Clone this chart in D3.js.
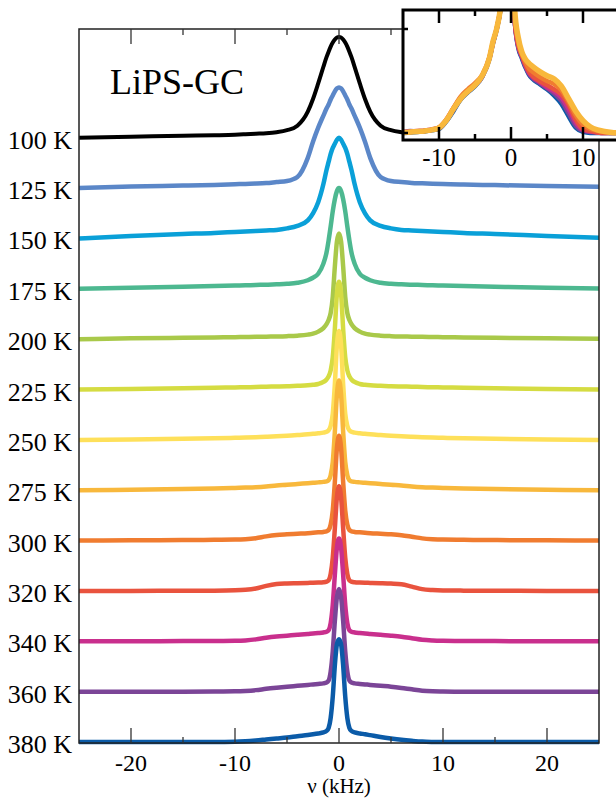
<!DOCTYPE html>
<html>
<head>
<meta charset="utf-8">
<script src="https://cdn.jsdelivr.net/npm/d3@7"></script>
<style>
  html, body { margin: 0; padding: 0; background: #fff; }
  #chart { width: 616px; height: 798px; overflow: hidden; }
</style>
</head>
<body>
<div id="chart"></div>
<script>
// Frequency grid (kHz) of the main stacked spectra
const freqs = [-25, -20, -15, -12, -10, -9, -8, -7, -6, -5, -4, -3, -2.5, -2, -1.5, -1.2, -1, -0.8, -0.6, -0.4, -0.2,
    0,
    0.2, 0.4, 0.6, 0.8, 1, 1.2, 1.5, 2, 2.5, 3, 4, 5, 6, 7, 8, 9, 10, 12, 15, 20, 25];

const temps = [100, 125, 150, 175, 200, 225, 250, 275, 300, 320, 340, 360, 380];
const curveColors = ["#000000", "#5b87c8", "#0aa0d8", "#4db890", "#a9c94a", "#d5dc42", "#fee05a",
    "#f8b83c", "#f07c30", "#e9533e", "#c92f8d", "#7b4597", "#0b5ba8"];

// Intensities (one offset step = 50)
const i100K = [0, 1, 2, 2.5, 3, 3.5, 4, 4.5, 5.5, 7.5, 12, 26, 38.5, 54, 70.5, 80, 85.5, 90.5, 94.5, 97.5, 99.5,
    100,
    99.5, 97.5, 94.5, 90.5, 85.5, 80, 70.5, 54, 38.5, 26, 12, 7.5, 5.5, 4.5, 4, 3.5, 3, 2.5, 2, 1, 0.3];
const i125K = [0, 1.5, 2.5, 3.2, 3.8, 4.2, 4.5, 5, 6, 7, 11, 30, 46, 60, 72, 79, 83, 88, 92, 96, 99,
    100,
    99, 96, 92, 88, 83, 79, 72, 60, 46, 30, 11, 7, 6, 5.2, 4.8, 4.4, 4, 3.5, 3, 2, 1.3];
const i150K = [0, 2.5, 4.5, 5.5, 6.5, 7, 7.5, 8, 8.5, 10, 12.5, 18, 25, 36, 54, 68, 76, 84, 90, 94, 98,
    100,
    98, 94, 90, 84, 76, 68, 54, 36, 25, 18, 12.5, 10, 8.5, 8, 7.5, 7, 6.5, 5.5, 4.5, 2.5, 0.7];
const i175K = [0, 1, 2, 2.7, 3.2, 3.5, 3.8, 4.1, 4.5, 5, 6, 8.5, 11, 15, 25, 36, 48, 62, 77, 89, 97,
    100,
    97, 89, 77, 62, 48, 36, 25, 15, 11, 8.5, 6, 5, 4.5, 4.1, 3.8, 3.5, 3.2, 2.7, 2, 1, 0.3];
const i200K = [0, 0.8, 1.3, 1.7, 2, 2.1, 2.3, 2.5, 2.7, 3, 3.5, 4.5, 5.5, 7.5, 11, 15, 19, 26, 42, 72, 97,
    105,
    97, 72, 42, 26, 19, 15, 11, 7.5, 5.5, 4.5, 3.5, 3, 2.7, 2.5, 2.3, 2.1, 2, 1.7, 1.3, 0.8, 0.4];
const i225K = [0, 0.6, 1.2, 1.7, 2.1, 2.3, 2.5, 2.8, 3, 3.3, 3.7, 4.2, 4.7, 5.5, 7.5, 10, 13, 19, 32, 60, 95,
    107,
    95, 60, 32, 19, 13, 10, 7.5, 5.5, 4.7, 4.2, 3.7, 3.3, 3, 2.8, 2.5, 2.3, 2.1, 1.7, 1.2, 0.6, 0];
const i250K = [0, 0.5, 1, 1.5, 2, 2.3, 2.7, 3.1, 3.6, 4.2, 4.8, 5.5, 6, 6.5, 7.2, 8, 9.5, 14, 26, 55, 94,
    108,
    94, 55, 26, 14, 9.5, 8, 7.2, 6.5, 6, 5.5, 4.8, 4.2, 3.6, 3.1, 2.7, 2.3, 2, 1.5, 1, 0.5, 0];
const i275K = [0, 0.5, 1.2, 1.8, 2.3, 2.6, 3, 3.7, 4.7, 5.4, 6.2, 7, 7.4, 7.8, 8.3, 8.8, 10, 15, 28, 58, 95,
    109,
    95, 58, 28, 15, 10, 8.8, 8.3, 7.8, 7.4, 7, 6.2, 5.4, 4.7, 3.7, 3, 2.6, 2.3, 1.8, 1.2, 0.5, 0];
const i300K = [0, 0.3, 0.5, 0.8, 1, 1.4, 2.4, 4.2, 5.5, 6.2, 6.8, 7.4, 7.8, 8.2, 8.6, 9.2, 10.5, 16, 30, 58, 92,
    104,
    92, 58, 30, 16, 10.5, 9.2, 8.6, 8.2, 7.8, 7.4, 6.8, 6.2, 5.3, 3.8, 2.2, 1.4, 1, 0.8, 0.5, 0.3, 0];
const i320K = [0, 0, 0.2, 0.3, 0.6, 1.1, 2.4, 5, 6.8, 7.4, 7.7, 8, 8.1, 8.3, 8.6, 9.2, 10.5, 17, 33, 62, 93,
    104,
    93, 62, 33, 17, 10.5, 9.2, 8.6, 8.3, 8.1, 8, 7.7, 7.3, 6.6, 4.3, 1.8, 0.9, 0.5, 0.3, 0.2, 0, 0];
const i340K = [0, 0, 0.2, 0.3, 0.5, 0.9, 1.9, 3.6, 4.8, 5.6, 6.4, 7.3, 7.8, 8.2, 8.8, 9.5, 11, 18, 36, 66, 93,
    102,
    93, 66, 36, 18, 11, 9.5, 8.8, 8.2, 7.8, 7.3, 6.4, 5.6, 4.6, 3.1, 1.5, 0.8, 0.5, 0.3, 0.2, 0, 0];
const i360K = [0, 0, 0, 0.1, 0.3, 0.7, 1.5, 2.8, 3.9, 4.9, 5.8, 6.7, 7.2, 7.7, 8.2, 9, 11, 20, 40, 70, 94,
    102,
    94, 70, 40, 20, 11, 9, 8.2, 7.7, 7.2, 6.7, 5.8, 4.9, 3.7, 2.3, 1, 0.4, 0.2, 0, 0, 0, 0];
const i380K = [0, 0, 0, 0, 0.2, 0.7, 1.5, 2.5, 3.5, 4.5, 5.8, 7, 7.7, 8.5, 9.5, 11, 14, 24, 45, 76, 97,
    102,
    97, 76, 45, 24, 14, 11, 9.5, 8.5, 7.7, 6.8, 5, 3.5, 2.2, 1.2, 0.4, 0.1, 0, 0, 0, 0, 0];
const mainSeries = [i100K, i125K, i150K, i175K, i200K, i225K, i250K, i275K, i300K, i320K, i340K, i360K, i380K];

// x ticks
const xMajorTicks = [-20, -10, 0, 10, 20];
const xMinorTicks = [-15, -5, 5, 15];

// Inset (zoomed base of the high-temperature lines)
const insetFreqs = [-15, -14, -13, -12, -11, -10, -9, -8, -7, -6, -5, -4, -3, -2.5, -2, -1.5, -1, -0.5,
    0,
    0.5, 1, 1.5, 2, 2.5, 3, 4, 5, 6, 7, 8, 9, 10, 11, 12, 13, 14, 15];
const insetTemps = [380, 360, 340, 320, 300, 275];
const insetColors = ["#0b5ba8", "#7b4597", "#c92f8d", "#e9533e", "#f07c30", "#f8b83c"];
const in380K = [0, 0.5, 1, 1.5, 2.5, 4, 11, 21, 32, 39, 45, 54, 71, 86, 99, 117, 150, 250,
    300,
    110, 82, 72, 63, 56, 52, 47, 42, 36, 28, 16, 5, 1, 0, 0, 0, 0, 0];
const in360K = [1, 2, 1.5, 2, 3, 4.5, 12, 22, 33, 40, 46, 54, 72, 87, 100, 117, 150, 250,
    300,
    110, 83, 73, 64, 57, 53, 48, 43, 38, 31, 19, 7, 2, 1, 1, 0.5, 0, 0];
const in340K = [1, 1.5, 2, 2.5, 3.5, 5, 12, 23, 33, 40, 46, 55, 72, 87, 100, 118, 150, 250,
    300,
    110, 84, 74, 65, 58, 54, 49, 44, 40, 34, 23, 10, 3, 1.5, 0.5, 0, 0.5, 0];
const in320K = [0.5, 1, 1.5, 2, 3, 5.5, 13, 24, 34, 41, 47, 55, 72, 87, 100, 118, 150, 250,
    300,
    110, 85, 75, 66, 59, 55, 50, 46, 42, 37, 27, 13, 4, 2, 0.5, 0, 0, 0];
const in300K = [0.5, 1, 1.5, 2, 3, 5, 12, 24, 35, 42, 48, 56, 73, 88, 100, 118, 150, 250,
    300,
    115, 88, 76, 68, 62, 59, 54, 50, 47, 41, 30, 17, 8, 4, 2, 1, 0.5, 0];
const in275K = [0.5, 1, 1.5, 2, 3, 5, 12, 23, 33, 40, 46, 55, 72, 88, 100, 118, 150, 250,
    300,
    120, 92, 78, 71, 67, 64, 59, 55, 52, 45, 33, 21, 12, 6, 3, 1.5, 0.5, 0];
const insetSeries = [in380K, in360K, in340K, in320K, in300K, in275K];
const insetMajorTicks = [-10, 0, 10];
const insetMinorTicks = [-5, 5];

document.addEventListener("DOMContentLoaded", function () {
    const width = 616, height = 798;
    const plot = { left: 79, right: 599, top: 29, bottom: 743 };
    const font = "'Liberation Serif', 'Times New Roman', serif";

    const svg = d3.select("#chart")
        .append("svg")
        .attr("width", width)
        .attr("height", height);

    // Scales
    const x = d3.scaleLinear().domain([-25, 25]).range([plot.left, plot.right]);
    const y = d3.scaleLinear().domain([0, 708]).range([742, plot.top]);
    const step = 50;

    svg.append("defs").append("clipPath").attr("id", "clipMain")
        .append("rect")
        .attr("x", plot.left).attr("y", 0)
        .attr("width", plot.right - plot.left).attr("height", height);

    const line = d3.line()
        .x(d => x(d[0]))
        .y(d => y(d[1]))
        .curve(d3.curveMonotoneX);

    // Stacked spectra, low temperature first so hotter ones sit on top
    const curves = svg.append("g").attr("clip-path", "url(#clipMain)");
    mainSeries.forEach((vals, k) => {
        const offset = (temps.length - 1 - k) * step;
        curves.append("path")
            .datum(freqs.map((f, j) => [f, offset + vals[j]]))
            .attr("fill", "none")
            .attr("stroke", curveColors[k])
            .attr("stroke-width", k === 0 ? 4 : 4.5)
            .attr("stroke-linejoin", "round")
            .attr("d", line);
    });

    // Frame
    svg.append("rect")
        .attr("x", plot.left).attr("y", plot.top)
        .attr("width", plot.right - plot.left).attr("height", plot.bottom - plot.top)
        .attr("fill", "none")
        .attr("stroke", "#222")
        .attr("stroke-width", 1.5);

    // Ticks (inward) on bottom and top
    const tickG = svg.append("g").attr("stroke", "#333").attr("stroke-width", 1.3);
    [[xMajorTicks, 15], [xMinorTicks, 6]].forEach(([vals, len]) => {
        vals.forEach(v => {
            tickG.append("line").attr("x1", x(v)).attr("x2", x(v))
                .attr("y1", plot.bottom).attr("y2", plot.bottom - len);
            tickG.append("line").attr("x1", x(v)).attr("x2", x(v))
                .attr("y1", plot.top).attr("y2", plot.top + len);
        });
    });

    // x tick labels
    svg.append("g").selectAll("text")
        .data(xMajorTicks)
        .enter()
        .append("text")
        .attr("x", d => x(d))
        .attr("y", 771)
        .attr("text-anchor", "middle")
        .style("font-family", font)
        .style("font-size", "24px")
        .text(d => d);

    svg.append("text")
        .attr("x", x(0))
        .attr("y", 793)
        .attr("text-anchor", "middle")
        .style("font-family", font)
        .style("font-size", "21px")
        .text("ν (kHz)");

    // Temperature labels at each baseline
    svg.append("g").selectAll("text")
        .data(temps)
        .enter()
        .append("text")
        .attr("x", 72)
        .attr("y", (d, k) => y((temps.length - 1 - k) * step) + 11)
        .attr("text-anchor", "end")
        .style("font-family", font)
        .style("font-size", "26px")
        .text(d => `${d} K`);

    svg.append("text")
        .attr("x", 110)
        .attr("y", 94)
        .style("font-family", font)
        .style("font-size", "36px")
        .text("LiPS-GC");

    // Inset
    const ins = { left: 403, right: 619, top: 10, bottom: 140 };
    const xi = d3.scaleLinear().domain([-15, 15]).range([ins.left, ins.right]);
    const yi = d3.scaleLinear().domain([0, 100]).range([133, 29]);

    svg.append("rect")
        .attr("x", ins.left).attr("y", ins.top)
        .attr("width", ins.right - ins.left).attr("height", ins.bottom - ins.top)
        .attr("fill", "#fff");

    svg.select("defs").append("clipPath").attr("id", "clipInset")
        .append("rect")
        .attr("x", ins.left).attr("y", ins.top)
        .attr("width", ins.right - ins.left).attr("height", ins.bottom - ins.top);

    const lineInset = d3.line()
        .x(d => xi(d[0]))
        .y(d => yi(d[1]))
        .curve(d3.curveMonotoneX);

    const insetG = svg.append("g").attr("clip-path", "url(#clipInset)");
    insetSeries.forEach((vals, k) => {
        insetG.append("path")
            .datum(insetFreqs.map((f, j) => [f, vals[j]]))
            .attr("fill", "none")
            .attr("stroke", insetColors[k])
            .attr("stroke-width", k === insetSeries.length - 1 ? 5.5 : 4.5)
            .attr("stroke-linejoin", "round")
            .attr("d", lineInset);
    });

    const insetTicks = svg.append("g").attr("stroke", "#000").attr("stroke-width", 2.5);
    [[insetMajorTicks, 13], [insetMinorTicks, 6]].forEach(([vals, len]) => {
        vals.forEach(v => {
            insetTicks.append("line").attr("x1", xi(v)).attr("x2", xi(v))
                .attr("y1", ins.bottom).attr("y2", ins.bottom - len);
            insetTicks.append("line").attr("x1", xi(v)).attr("x2", xi(v))
                .attr("y1", ins.top).attr("y2", ins.top + len);
        });
    });
    [0, 100].forEach(v => {
        insetTicks.append("line")
            .attr("x1", ins.left).attr("x2", ins.left + 5)
            .attr("y1", yi(v)).attr("y2", yi(v));
    });

    svg.append("rect")
        .attr("x", ins.left).attr("y", ins.top)
        .attr("width", ins.right - ins.left).attr("height", ins.bottom - ins.top)
        .attr("fill", "none")
        .attr("stroke", "#000")
        .attr("stroke-width", 3);

    svg.append("g").selectAll("text")
        .data(insetMajorTicks)
        .enter()
        .append("text")
        .attr("x", d => xi(d))
        .attr("y", 166)
        .attr("text-anchor", "middle")
        .style("font-family", font)
        .style("font-size", "25px")
        .text(d => d);
});
</script>
</body>
</html>
